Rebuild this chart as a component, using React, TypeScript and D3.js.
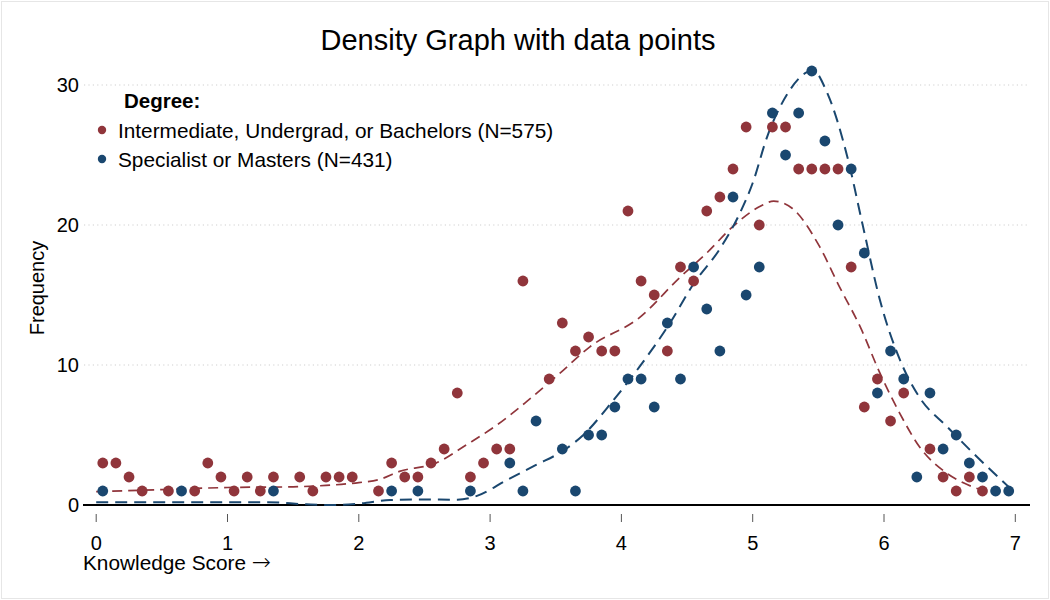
import * as d3 from "d3";

const WIDTH = 1050;
const HEIGHT = 600;

const RED = "#90353b";
const BLUE = "#1a476f";
const FONT = "'Liberation Sans', Arial, sans-serif";

// binned knowledge scores (bin mid-points) and counts
const bachelorScores = [
  0.05, 0.15, 0.25, 0.35, 0.55, 0.75, 0.85, 0.95, 1.05, 1.15, 1.25, 1.35, 1.55, 1.65,
  1.75, 1.85, 1.95, 2.15, 2.25, 2.35, 2.45, 2.55, 2.65, 2.75, 2.85, 2.95, 3.05, 3.15,
  3.25, 3.45, 3.55, 3.65, 3.75, 3.85, 3.95, 4.05, 4.15, 4.25, 4.35, 4.45, 4.55, 4.65,
  4.75, 4.85, 4.95, 5.05, 5.15, 5.25, 5.35, 5.45, 5.55, 5.65, 5.75, 5.85, 5.95, 6.05,
  6.15, 6.35, 6.45, 6.55, 6.65, 6.75,
];
const bachelorCounts = [
  3, 3, 2, 1, 1, 1, 3, 2, 1, 2, 1, 2, 2, 1,
  2, 2, 2, 1, 3, 2, 2, 3, 4, 8, 2, 3, 4, 4,
  16, 9, 13, 11, 12, 11, 11, 21, 16, 15, 11, 17, 16, 21,
  22, 24, 27, 20, 27, 27, 24, 24, 24, 24, 17, 7, 9, 6,
  8, 4, 2, 1, 2, 1,
];

const mastersScores = [
  0.05, 0.65, 1.35, 2.25, 2.45, 2.85, 3.15, 3.25, 3.35, 3.55, 3.65, 3.75, 3.85, 3.95,
  4.05, 4.15, 4.25, 4.35, 4.45, 4.55, 4.65, 4.75, 4.85, 4.95, 5.05, 5.15, 5.25, 5.35,
  5.45, 5.55, 5.65, 5.75, 5.85, 5.95, 6.05, 6.15, 6.25, 6.35, 6.45, 6.55, 6.65, 6.75,
  6.85, 6.95,
];
const mastersCounts = [
  1, 1, 1, 1, 1, 1, 3, 1, 6, 4, 1, 5, 5, 7,
  9, 9, 7, 13, 9, 17, 14, 11, 22, 15, 17, 28, 25, 28,
  31, 26, 20, 24, 18, 8, 11, 9, 2, 8, 4, 5, 3, 2,
  1, 1,
];

// density curves (scaled to frequency)
const bachelorCurveX = [
  0, 0.5, 1.0, 1.5, 1.75, 2.0, 2.16, 2.31, 2.59, 2.82, 3.05, 3.28, 3.53, 3.76, 4.14,
  4.45, 4.65, 4.85, 5.05, 5.16, 5.3, 5.51, 5.66, 5.82, 5.97, 6.12, 6.27, 6.48, 6.6, 6.77,
];
const bachelorCurveY = [
  0.95, 1.1, 1.25, 1.3, 1.4, 1.6, 1.83, 2.4, 3.0, 4.3, 5.7, 7.4, 9.4, 11.3, 13.4,
  16.3, 18.0, 19.9, 21.3, 21.7, 21.2, 18.45, 15.6, 12.7, 9.4, 6.55, 4.16, 2.26, 1.6, 1.0,
];

const mastersCurveX = [
  0, 0.5, 1.0, 1.3, 1.6, 1.8, 2.0, 2.24, 2.5, 2.75, 2.9, 3.13, 3.35, 3.56, 3.71, 3.94,
  4.14, 4.37, 4.55, 4.75, 4.9, 5.0, 5.11, 5.26, 5.41, 5.46, 5.56, 5.72, 5.84, 5.97,
  6.12, 6.27, 6.48, 6.68, 6.96,
];
const mastersCurveY = [
  0.2, 0.2, 0.2, 0.2, 0.05, 0.0, 0.1, 0.36, 0.4, 0.38, 0.65, 1.8, 2.86, 3.9, 5.0, 7.5,
  9.9, 13.0, 15.8, 18.3, 20.8, 23.0, 26.3, 29.3, 30.9, 31.05, 29.6, 24.9, 19.9, 14.6,
  10.4, 7.7, 5.6, 3.7, 1.2,
];

const xTicks = [0, 1, 2, 3, 4, 5, 6, 7];
const yTicks = [0, 10, 20, 30];
const legendLabels = [
  "Intermediate, Undergrad, or Bachelors (N=575)",
  "Specialist or Masters (N=431)",
];

export default function App() {
  const x = d3.scaleLinear().domain([0, 7]).range([96.2, 1015.3]);
  const y = d3.scaleLinear().domain([0, 30]).range([505, 85]);

  const line = d3
    .line<[number, number]>()
    .x((d) => x(d[0]))
    .y((d) => y(d[1]))
    .curve(d3.curveMonotoneX);

  const redCurve = line(bachelorCurveX.map((v, i) => [v, bachelorCurveY[i]]));
  const blueCurve = line(mastersCurveX.map((v, i) => [v, mastersCurveY[i]]));

  return (
    <div style={{ position: "absolute", left: 0, top: 0 }}>
      <svg width={WIDTH} height={HEIGHT} style={{ display: "block", fontFamily: FONT }}>
        <rect x={0} y={0} width={WIDTH} height={HEIGHT} fill="#ffffff" />
        <rect
          x={1.5}
          y={1.5}
          width={WIDTH - 3}
          height={HEIGHT - 3}
          fill="none"
          stroke="#e6e6e6"
          strokeWidth={1}
        />

        <text x={518} y={50} textAnchor="middle" fontSize={29} fill="#000">
          Density Graph with data points
        </text>

        {/* grid */}
        {yTicks
          .filter((t) => t > 0)
          .map((t) => (
            <line
              key={`g-${t}`}
              x1={84}
              x2={1030}
              y1={y(t)}
              y2={y(t)}
              stroke="#cfcfcf"
              strokeWidth={1.2}
              strokeDasharray="1.2,3.2"
            />
          ))}
        {yTicks.map((t) => (
          <text
            key={`yl-${t}`}
            x={79}
            y={y(t) + 7}
            textAnchor="end"
            fontSize={20}
            fill="#000"
          >
            {t}
          </text>
        ))}
        <text
          transform={`translate(44, 288) rotate(-90)`}
          textAnchor="middle"
          fontSize={20}
          fill="#000"
        >
          Frequency
        </text>

        {/* x axis */}
        <line x1={83} x2={1030} y1={y(0)} y2={y(0)} stroke="#000" strokeWidth={2} />
        {xTicks.map((t) => (
          <g key={`xt-${t}`}>
            <line
              x1={x(t)}
              x2={x(t)}
              y1={514}
              y2={522}
              stroke="#555"
              strokeWidth={1}
            />
            <text x={x(t)} y={550} textAnchor="middle" fontSize={20} fill="#000">
              {t}
            </text>
          </g>
        ))}
        <text x={83} y={570} fontSize={20.8} fill="#000">
          Knowledge Score{" "}
          <tspan fontFamily="'DejaVu Sans', sans-serif" fontSize={23} fontWeight={300}>
            →
          </tspan>
        </text>

        {/* density curves */}
        <path
          d={redCurve ?? ""}
          fill="none"
          stroke={RED}
          strokeWidth={1.7}
          strokeDasharray="10,6"
        />
        <path
          d={blueCurve ?? ""}
          fill="none"
          stroke={BLUE}
          strokeWidth={2}
          strokeDasharray="12,7"
        />

        {/* data points */}
        {bachelorScores.map((s, i) => (
          <circle key={`r-${i}`} cx={x(s)} cy={y(bachelorCounts[i])} r={5.4} fill={RED} />
        ))}
        {mastersScores.map((s, i) => (
          <circle key={`b-${i}`} cx={x(s)} cy={y(mastersCounts[i])} r={5.4} fill={BLUE} />
        ))}

        {/* legend */}
        <text x={124} y={108} fontSize={20.5} fontWeight="bold" fill="#000">
          Degree:
        </text>
        {legendLabels.map((label, i) => (
          <g key={`lg-${i}`}>
            <circle cx={102} cy={130 + i * 29} r={4.2} fill={i === 0 ? RED : BLUE} />
            <text x={118} y={138 + i * 29} fontSize={20.8} fill="#000">
              {label}
            </text>
          </g>
        ))}
      </svg>
    </div>
  );
}
